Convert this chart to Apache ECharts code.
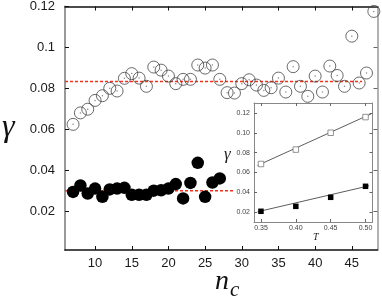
<!DOCTYPE html>
<html><head><meta charset="utf-8">
<script src="https://cdn.jsdelivr.net/npm/echarts@6/dist/echarts.min.js"></script>
<style>html,body{margin:0;padding:0;background:#fff}#c{width:382px;height:300px}</style>
</head><body><div id="c"></div>
<script>
// Main panel data
const nOpen = [7,8,9,10,11,12,13,14,15,16,17,18,19,20,21,22,23,24,25,26,27,28,29,30,31,32,33,34,35,36,37,38,39,40,41,42,43,44,45,46,47,48];
const gammaOpen = [0.0624,0.068,0.0698,0.0741,0.0764,0.080,0.0787,0.0849,0.0872,0.085,0.081,0.0904,0.0889,0.086,0.0823,0.0844,0.0844,0.0914,0.0899,0.0914,0.0844,0.0779,0.0777,0.0823,0.0842,0.0816,0.079,0.0803,0.085,0.0782,0.0906,0.081,0.0761,0.086,0.0782,0.0909,0.0863,0.081,0.1055,0.0826,0.0875,0.1176];
const nFilled = [7,8,9,10,11,12,13,14,15,16,17,18,19,20,21,22,23,24,25,26,27];
const gammaFilled = [0.0294,0.0325,0.0286,0.031,0.027,0.0306,0.031,0.0314,0.028,0.028,0.028,0.030,0.0302,0.031,0.0332,0.0262,0.0338,0.0436,0.027,0.034,0.036];
const meanOpenLine = [[5.9,0.0834],[46.4,0.0834]];
const meanFilledLine = [[5.9,0.0299],[29,0.0299]];
const xTicks = [10,15,20,25,30,35,40,45];
const yTicks = [0.02,0.04,0.06,0.08,0.1,0.12];
// Inset data
const T = [0.35,0.40,0.45,0.50];
const gammaOpenT = [0.0685,0.083,0.100,0.1158];
const gammaFilledT = [0.0208,0.0258,0.0349,0.046];
const fitOpen = [[0.345,0.067],[0.508,0.119]];
const fitFilled = [[0.345,0.0203],[0.505,0.0465]];
const tTicks = [0.35,0.40,0.45,0.50];
const yTicksInset = [0.02,0.04,0.06,0.08,0.10,0.12];

const zip = (a,b) => a.map((v,i)=>[v,b[i]]);
const chart = echarts.init(document.getElementById('c'));
const font = 'Liberation Sans, Arial, sans-serif';
const serif = 'Liberation Serif, DejaVu Serif, serif';
chart.setOption({
  animation:false,
  backgroundColor:'#fff',
  grid:[
    {left:65, top:6, right:4.5, bottom:50, show:false},
    {left:254, top:103, width:118.5, height:119, show:true, backgroundColor:'#fff', borderWidth:0, z:5}
  ],
  xAxis:[
    {type:'value', gridIndex:0, position:'bottom', min:5.9, max:48.5,
     axisLine:{lineStyle:{color:'#111', width:1.5}},
     axisTick:{inside:true, length:4, customValues:xTicks, lineStyle:{color:'#111'}},
     axisLabel:{customValues:xTicks, color:'#1a1a1a', fontSize:13, fontFamily:font, margin:7},
     splitLine:{show:false}},
    {type:'value', gridIndex:0, position:'top', min:5.9, max:48.5,
     axisLine:{lineStyle:{color:'#111', width:1.5}},
     axisTick:{inside:true, length:4, customValues:xTicks, lineStyle:{color:'#111'}},
     axisLabel:{show:false}, splitLine:{show:false}},
    {type:'value', gridIndex:1, position:'bottom', min:0.34, max:0.51, z:6,
     axisLine:{lineStyle:{color:'#888', width:1}},
     axisTick:{inside:true, length:3, customValues:tTicks, lineStyle:{color:'#666'}},
     axisLabel:{customValues:tTicks, color:'#444', fontSize:7, fontFamily:font, margin:3, formatter:v=>v.toFixed(2)},
     splitLine:{show:false}},
    {type:'value', gridIndex:1, position:'top', min:0.34, max:0.51, z:6,
     axisLine:{lineStyle:{color:'#888', width:1}},
     axisTick:{inside:true, length:3, customValues:tTicks, lineStyle:{color:'#666'}},
     axisLabel:{show:false}, splitLine:{show:false}}
  ],
  yAxis:[
    {type:'value', gridIndex:0, position:'left', min:0.001, max:0.12,
     axisLine:{show:true, lineStyle:{color:'#999', width:2}},
     axisTick:{show:true, inside:true, length:4, customValues:yTicks, lineStyle:{color:'#111'}},
     axisLabel:{customValues:yTicks, color:'#1a1a1a', fontSize:13, fontFamily:font, margin:10},
     splitLine:{show:false}},
    {type:'value', gridIndex:0, position:'right', min:0.001, max:0.12,
     axisLine:{show:true, lineStyle:{color:'#999', width:1.5}},
     axisTick:{show:true, inside:true, length:4, customValues:yTicks, lineStyle:{color:'#666'}},
     axisLabel:{show:false}, splitLine:{show:false}},
    {type:'value', gridIndex:1, position:'left', min:0.01, max:0.13, z:6,
     axisLine:{show:true, lineStyle:{color:'#888', width:1}},
     axisTick:{show:true, inside:true, length:3, customValues:yTicksInset, lineStyle:{color:'#666'}},
     axisLabel:{customValues:yTicksInset, color:'#444', fontSize:7, fontFamily:font, margin:4, formatter:v=>v.toFixed(2)},
     splitLine:{show:false}},
    {type:'value', gridIndex:1, position:'right', min:0.01, max:0.13, z:6,
     axisLine:{show:true, lineStyle:{color:'#888', width:1}},
     axisTick:{show:true, inside:true, length:3, customValues:yTicksInset, lineStyle:{color:'#666'}},
     axisLabel:{show:false}, splitLine:{show:false}}
  ],
  series:[
    {type:'line', xAxisIndex:0, yAxisIndex:0, data:meanOpenLine, symbol:'none', z:1,
     lineStyle:{color:'#f0321e', width:1.5, type:[3,2]}},
    {type:'line', xAxisIndex:0, yAxisIndex:0, data:meanFilledLine, symbol:'none', z:1,
     lineStyle:{color:'#f0321e', width:1.5, type:[3,2]}},
    {type:'scatter', xAxisIndex:0, yAxisIndex:0, data:zip(nOpen,gammaOpen), symbol:'circle', symbolSize:12, z:2,
     itemStyle:{color:'rgba(0,0,0,0)', borderColor:'#444', borderWidth:0.8, opacity:1}},
    {type:'scatter', xAxisIndex:0, yAxisIndex:0, data:zip(nOpen,gammaOpen), symbol:'circle', symbolSize:1.5, z:2,
     itemStyle:{color:'#888', opacity:1}},
    {type:'scatter', xAxisIndex:0, yAxisIndex:0, data:zip(nFilled,gammaFilled), symbol:'circle', symbolSize:12.5, z:2,
     itemStyle:{color:'#000', opacity:1}},
    {type:'line', xAxisIndex:2, yAxisIndex:2, data:fitOpen, symbol:'none', z:7,
     lineStyle:{color:'#333', width:0.8}},
    {type:'line', xAxisIndex:2, yAxisIndex:2, data:fitFilled, symbol:'none', z:7,
     lineStyle:{color:'#333', width:0.8}},
    {type:'scatter', xAxisIndex:2, yAxisIndex:2, data:zip(T,gammaOpenT), symbol:'rect', symbolSize:5.5, z:8,
     itemStyle:{color:'#fff', borderColor:'#777', borderWidth:0.8, opacity:1}},
    {type:'scatter', xAxisIndex:2, yAxisIndex:2, data:zip(T,gammaFilledT), symbol:'rect', symbolSize:5.5, z:8,
     itemStyle:{color:'#000', opacity:1}}
  ],
  graphic:[
    {type:'text', left:2, top:112, z:10, style:{text:'γ', font:'italic 32px '+serif, fill:'#111'}},
    {type:'text', x:215, y:282, z:10, style:{text:'n', font:'italic 28px '+serif, fill:'#111', textVerticalAlign:'middle'}},
    {type:'text', x:230, y:290, z:10, style:{text:'c', font:'italic 21px '+serif, fill:'#111', textVerticalAlign:'middle'}},
    {type:'text', x:313, y:237, z:10, style:{text:'T', font:'italic 10px '+serif, fill:'#222', textVerticalAlign:'middle'}},
    {type:'text', x:224, y:155, z:10, style:{text:'γ', font:'italic 17px '+serif, fill:'#222', textVerticalAlign:'middle'}}
  ]
});
</script></body></html>
